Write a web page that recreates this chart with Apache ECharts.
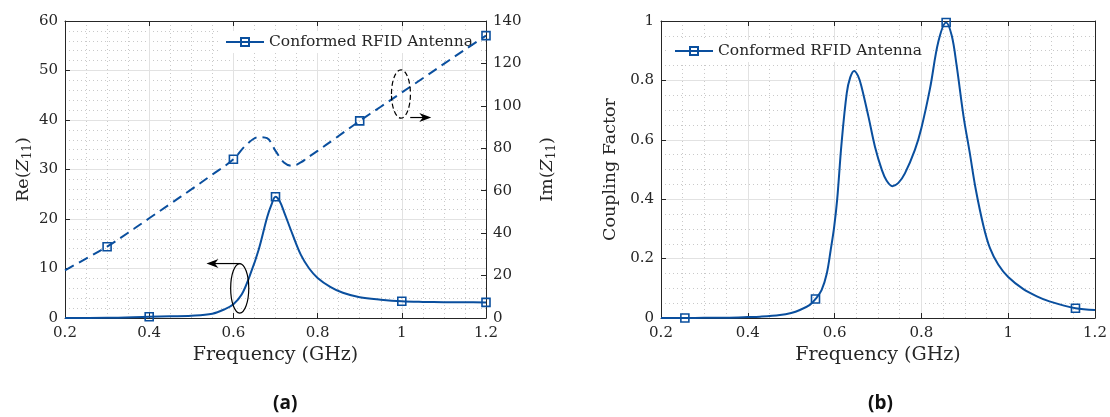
<!DOCTYPE html>
<html><head><meta charset="utf-8">
<script src="https://cdn.jsdelivr.net/npm/echarts@6/dist/echarts.min.js"></script>
<style>html,body{margin:0;padding:0;background:#fff}#c{width:1110px;height:417px}</style>
</head><body><div id="c"></div>
<script>
// ---- data ----
const freqRe = [0.20,0.30,0.40,0.45,0.50,0.55,0.58,0.60,0.62,0.64,0.66,0.68,0.69,0.70,0.71,0.72,0.74,0.76,0.78,0.80,0.83,0.86,0.90,0.95,1.00,1.05,1.10,1.15,1.20];
const reZ11  = [0.00,0.05,0.26,0.35,0.45,0.85,1.80,2.80,4.80,8.80,13.8,20.3,22.8,24.5,23.6,21.5,17.0,12.8,10.0,8.1,6.3,5.1,4.2,3.7,3.37,3.25,3.20,3.17,3.15];
const reMarkers = [0.40,0.70,1.00,1.20];

const freqIm = [0.20,0.25,0.30,0.35,0.40,0.45,0.50,0.55,0.60,0.63,0.66,0.68,0.70,0.72,0.74,0.76,0.78,0.80,0.84,0.90,0.95,1.00,1.05,1.10,1.15,1.20];
const imZ11  = [22.5,28.0,33.6,40.2,47.0,53.8,60.6,67.6,74.8,81.5,85.3,84.8,78.8,73.3,71.7,73.3,76.1,78.8,84.4,92.9,99.6,106.3,113.0,119.8,126.5,133.1];
const imMarkers = [0.30,0.60,0.90,1.20];

const freqCF = [0.20,0.255,0.30,0.35,0.40,0.428,0.474,0.50,0.52,0.543,0.556,0.570,0.582,0.591,0.599,0.606,0.616,0.628,0.636,0.645,0.654,0.662,0.678,0.693,0.709,0.72,0.733,0.747,0.762,0.785,0.80,0.82,0.839,0.857,0.87,0.881,0.897,0.911,0.925,0.943,0.958,0.977,1.00,1.035,1.066,1.095,1.155,1.20];
const coupling = [0.0,0.0,0.0005,0.001,0.003,0.0045,0.01,0.017,0.027,0.044,0.064,0.094,0.15,0.229,0.307,0.40,0.588,0.757,0.81,0.832,0.815,0.779,0.678,0.577,0.498,0.462,0.444,0.455,0.487,0.566,0.64,0.774,0.93,0.995,0.95,0.852,0.68,0.56,0.435,0.31,0.235,0.18,0.138,0.097,0.073,0.056,0.033,0.027];
const cfMarkers = [0.255,0.556,0.857,1.155];

const xTicks = [0.2,0.4,0.6,0.8,1,1.2];
const seriesName = 'Conformed RFID Antenna';

// annotations in data coordinates
const ellipseRe = {f:0.615, v:6.0, f2:0.6365, v2:11.0};
const arrowRe = {f1:0.617, f2:0.536, v:11.0};
const ellipseIm = {f:0.998, v:105.6, f2:1.0205, v2:117.0};
const arrowIm = {f1:1.02, f2:1.07, v:94.5};

// ---- style ----
const BLUE = '#0a4f9e';
const AX = '#262626';
const SERIF = 'DejaVu Serif';

function build(fs, vs, marks){
  return fs.map((f,i)=> marks.some(m=>Math.abs(m-f)<1e-9) ? {value:[f,vs[i]]} : {value:[f,vs[i]], symbol:'none'});
}
function xAxis(grid, pos, main){
  return {type:'value', gridIndex:grid, position:pos, min:0.2, max:1.2, interval:0.2,
    axisLine:{show:true, onZero:false, lineStyle:{color:AX, width:1}},
    axisTick:{show:true, inside:true, length:5, lineStyle:{color:AX}},
    axisLabel:{show:main, color:AX, fontFamily:SERIF, fontSize:15, margin:8,
      formatter:v=>{const t=xTicks.find(x=>Math.abs(x-v)<1e-6); return t===undefined?'':String(t);}},
    splitLine:{show:main, lineStyle:{color:'#e2e2e2', width:1}},
    minorTick:{show:false, splitNumber:4},
    minorSplitLine:{show:main, lineStyle:{color:'#c9c9c9', type:[1,3], width:1}},
    name: main?'Frequency (GHz)':'', nameLocation:'middle', nameGap:28,
    nameTextStyle:{color:AX, fontFamily:SERIF, fontSize:19}
  };
}
function yAxis(grid, pos, min, max, interval, minorN, showLabel, grid_lines, name, gap){
  return {type:'value', gridIndex:grid, position:pos, min, max, interval,
    axisLine:{show:true, onZero:false, lineStyle:{color:AX, width:1}},
    axisTick:{show:true, inside:true, length:5, lineStyle:{color:AX}},
    axisLabel:{show:showLabel, color:AX, fontFamily:SERIF, fontSize:15, margin:7,
      formatter:v=>String(+v.toFixed(2))},
    splitLine:{show:grid_lines, lineStyle:{color:'#e2e2e2', width:1}},
    minorTick:{show:false, splitNumber:minorN},
    minorSplitLine:{show:grid_lines, lineStyle:{color:'#c9c9c9', type:[1,3], width:1}},
    name:name||'', nameLocation:'middle', nameGap:gap||0, nameRotate:90,
    nameTextStyle:{color:AX, fontFamily:SERIF, fontSize:17.5,
      rich:{a:{fontFamily:SERIF, fontSize:17.5, color:AX, lineHeight:22, verticalAlign:'middle'},
            i:{fontFamily:SERIF, fontSize:17.5, fontStyle:'italic', color:AX, lineHeight:22, verticalAlign:'middle'},
            s:{fontFamily:SERIF, fontSize:12, color:AX, lineHeight:12, verticalAlign:'bottom'}}}
  };
}
function lineSeries(name, xi, yi, data, dashed){
  return {name, type:'line', xAxisIndex:xi, yAxisIndex:yi, data,
    smooth:0.35, symbol:'rect', symbolSize:8, showSymbol:true, showAllSymbol:true,
    lineStyle:{color:BLUE, width:2, type: dashed?[10,6]:'solid'},
    itemStyle:{color:'rgba(255,255,255,0)', borderColor:BLUE, borderWidth:1.6},
    emphasis:{disabled:true}, z:5};
}

const chart = echarts.init(document.getElementById('c'), null, {renderer:'canvas'});
const option = {
  animation:false,
  backgroundColor:'#fff',
  grid:[{left:65, top:21, width:421, height:297},{left:661, top:21, width:434, height:297}],
  xAxis:[xAxis(0,'bottom',true), xAxis(0,'top',false), xAxis(1,'bottom',true), xAxis(1,'top',false)],
  yAxis:[
    yAxis(0,'left',0,60,10,5,true,true,'{a|Re(}{i|Z}{s|11}{a|)}',31),
    yAxis(0,'right',0,140,20,5,true,false,'{a|Im(}{i|Z}{s|11}{a|)}',50),
    yAxis(1,'left',0,1,0.2,4,true,true,'Coupling Factor',42),
    yAxis(1,'right',0,1,0.2,4,false,false)
  ],
  legend:[
    {data:[seriesName], left:220, top:31, itemWidth:38, itemHeight:10, padding:[3,8,3,5], backgroundColor:'#fff',
      textStyle:{color:AX, fontFamily:SERIF, fontSize:15.5}, selectedMode:false},
    {data:[seriesName], left:669, top:40, itemWidth:38, itemHeight:10, padding:[3,8,3,5], backgroundColor:'#fff',
      textStyle:{color:AX, fontFamily:SERIF, fontSize:15.5}, selectedMode:false}
  ],
  series:[
    lineSeries(seriesName,0,0,build(freqRe,reZ11,reMarkers),false),
    lineSeries('Im',0,1,build(freqIm,imZ11,imMarkers),true),
    lineSeries(seriesName,2,2,build(freqCF,coupling,cfMarkers),false)
  ]
};
chart.setOption(option);

function px(f,v,yi){ return chart.convertToPixel({xAxisIndex:0, yAxisIndex:yi},[f,v]); }
function arrowHead(tip, dir){
  const L=12, W=4.5;
  const [x,y]=tip;
  return {type:'polygon', shape:{points:[[x,y],[x-dir*L,y-W],[x-dir*L*0.7,y],[x-dir*L,y+W]]}, style:{fill:'#000'}, z:20};
}
const c1=px(ellipseRe.f,ellipseRe.v,0), e1=px(ellipseRe.f2,ellipseRe.v2,0);
const a1s=px(arrowRe.f1,arrowRe.v,0), a1e=px(arrowRe.f2,arrowRe.v,0);
const c2=px(ellipseIm.f,ellipseIm.v,1), e2=px(ellipseIm.f2,ellipseIm.v2,1);
const a2s=px(arrowIm.f1,arrowIm.v,1), a2e=px(arrowIm.f2,arrowIm.v,1);
chart.setOption({graphic:[
  {type:'ellipse', shape:{cx:c1[0], cy:c1[1], rx:Math.abs(e1[0]-c1[0]), ry:Math.abs(c1[1]-e1[1])}, style:{fill:null, stroke:'#000', lineWidth:1.2}, z:20},
  {type:'line', shape:{x1:a1s[0], y1:a1s[1], x2:a1e[0]+6, y2:a1e[1]}, style:{stroke:'#000', lineWidth:1.2}, z:20},
  arrowHead(a1e,-1),
  {type:'ellipse', shape:{cx:c2[0], cy:c2[1], rx:Math.abs(e2[0]-c2[0]), ry:Math.abs(c2[1]-e2[1])}, style:{fill:null, stroke:'#000', lineWidth:1.2, lineDash:[5,3]}, z:20},
  {type:'line', shape:{x1:a2s[0], y1:a2s[1], x2:a2e[0]-6, y2:a2e[1]}, style:{stroke:'#000', lineWidth:1.2}, z:20},
  arrowHead(a2e,1),
  {type:'text', left:273, top:394, style:{text:'(a)', fontFamily:'Open Sans', fontWeight:'bold', fontSize:19, fill:'#111'}},
  {type:'text', left:868, top:394, style:{text:'(b)', fontFamily:'Open Sans', fontWeight:'bold', fontSize:19, fill:'#111'}}
]});
</script>
</body></html>
